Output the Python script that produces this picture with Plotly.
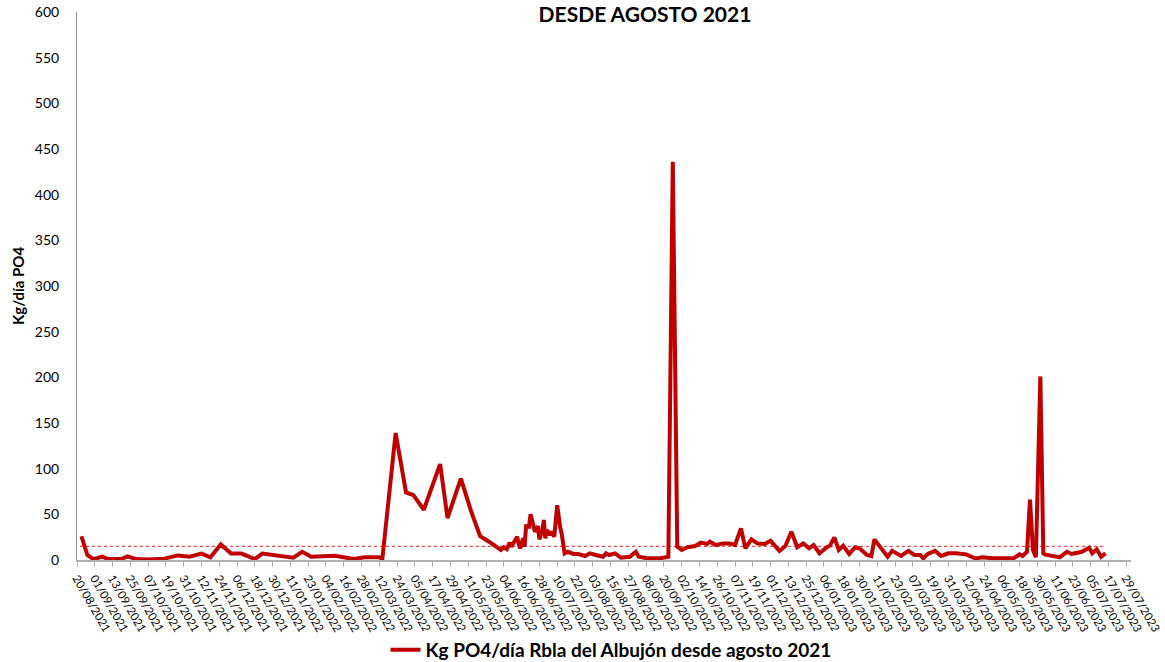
import pandas as pd
import plotly.graph_objects as go

fechas = [
    "2021-08-23", "2021-08-27", "2021-08-31", "2021-09-03", "2021-09-06", "2021-09-10",
    "2021-09-14", "2021-09-19", "2021-09-23", "2021-09-29", "2021-10-07", "2021-10-18",
    "2021-10-27", "2021-11-04", "2021-11-12", "2021-11-18", "2021-11-25", "2021-12-02",
    "2021-12-09", "2021-12-18", "2021-12-23", "2021-12-31", "2022-01-13", "2022-01-19",
    "2022-01-25", "2022-02-10", "2022-02-23", "2022-03-02", "2022-03-12", "2022-03-14",
    "2022-03-23", "2022-03-30", "2022-04-04", "2022-04-11", "2022-04-22", "2022-04-27",
    "2022-05-06", "2022-05-13", "2022-05-19", "2022-05-25", "2022-06-02", "2022-06-04",
    "2022-06-06", "2022-06-08", "2022-06-09", "2022-06-11", "2022-06-13", "2022-06-14",
    "2022-06-15", "2022-06-17", "2022-06-18", "2022-06-19", "2022-06-21", "2022-06-22",
    "2022-06-24", "2022-06-25", "2022-06-27", "2022-06-28", "2022-06-30", "2022-07-01",
    "2022-07-02", "2022-07-03", "2022-07-05", "2022-07-06", "2022-07-08", "2022-07-10",
    "2022-07-12", "2022-07-13", "2022-07-15", "2022-07-17", "2022-07-21", "2022-07-24",
    "2022-07-29", "2022-08-01", "2022-08-05", "2022-08-10", "2022-08-12", "2022-08-14",
    "2022-08-18", "2022-08-22", "2022-08-28", "2022-09-01", "2022-09-03", "2022-09-09",
    "2022-09-17", "2022-09-23", "2022-09-26", "2022-09-29", "2022-10-02", "2022-10-06",
    "2022-10-11", "2022-10-15", "2022-10-19", "2022-10-21", "2022-10-25", "2022-10-30",
    "2022-11-03", "2022-11-07", "2022-11-11", "2022-11-14", "2022-11-18", "2022-11-22",
    "2022-11-27", "2022-12-01", "2022-12-07", "2022-12-11", "2022-12-15", "2022-12-19",
    "2022-12-23", "2022-12-27", "2022-12-30", "2023-01-03", "2023-01-08", "2023-01-10",
    "2023-01-13", "2023-01-16", "2023-01-19", "2023-01-23", "2023-01-27", "2023-01-30",
    "2023-02-04", "2023-02-07", "2023-02-09", "2023-02-14", "2023-02-18", "2023-02-21",
    "2023-02-27", "2023-03-04", "2023-03-08", "2023-03-12", "2023-03-14", "2023-03-17",
    "2023-03-22", "2023-03-26", "2023-03-31", "2023-04-05", "2023-04-12", "2023-04-18",
    "2023-04-23", "2023-04-30", "2023-05-07", "2023-05-14", "2023-05-18", "2023-05-20",
    "2023-05-23", "2023-05-25", "2023-05-27", "2023-05-29", "2023-06-01", "2023-06-03",
    "2023-06-04", "2023-06-10", "2023-06-14", "2023-06-19", "2023-06-22", "2023-06-26",
    "2023-06-29", "2023-07-04", "2023-07-06", "2023-07-09", "2023-07-12", "2023-07-15",
]

kg_po4 = [
    26, 5.5, 1, 2, 3.6, 1,
    1, 1, 4, 1, 0.5, 1.5,
    5, 3.6, 7, 3, 17, 7,
    7, 1, 7, 5, 2.5, 9,
    3.6, 4.7, 1, 3, 3, 1,
    139, 74, 71, 55, 105, 46,
    89, 53, 26, 20, 11, 14,
    12, 19, 14.6, 20, 25.5, 17.5,
    12.8, 23.7, 14.6, 37, 36.5, 50,
    34.7, 31, 37, 22.6, 32.8, 43.8,
    23.7, 32.8, 27.4, 31, 25.5, 60,
    35.8, 29, 7.3, 9, 6.6, 6.6,
    4.4, 7.3, 5.5, 3.6, 7.3, 5.5,
    7.3, 2.6, 3.6, 9, 3.6, 1.8,
    1.8, 3.6, 436, 14.6, 11, 14,
    15.3, 19, 17.5, 20, 16.4, 18.2,
    18.2, 16.4, 34.7, 12.8, 22.6, 18.2,
    17.5, 21, 9.9, 15.5, 31, 14,
    18.2, 12.8, 16.4, 7.3, 14, 15.5,
    24.8, 11, 15.5, 6.6, 14, 12.8,
    5.5, 4.4, 22.6, 11, 3.6, 10,
    4.4, 9.9, 5.5, 5.5, 1.8, 6.6,
    10, 4.4, 7.3, 7.3, 6.2, 1.8,
    2.9, 1.8, 1.5, 1.8, 6.2, 4.4,
    9, 66, 11, 3, 201, 7.3,
    6.2, 4.4, 2.9, 9, 6.6, 8,
    9, 13.5, 7.3, 11.7, 3.6, 7.3,
]

umbral = 15
umbral_fechas = ["2021-08-22", "2023-07-15"]

fuente = "Lato, Carlito, 'Liberation Sans', sans-serif"

fig = go.Figure()

fig.add_trace(
    go.Scatter(
        x=umbral_fechas,
        y=[umbral, umbral],
        mode="lines",
        line=dict(color="#E02020", width=1, dash="3px,3px"),
        showlegend=False,
        hoverinfo="skip",
    )
)

fig.add_trace(
    go.Scatter(
        x=pd.to_datetime(fechas),
        y=kg_po4,
        mode="lines",
        name="Kg PO4/día Rbla del Albujón desde agosto 2021",
        line=dict(color="#C00000", width=4),
    )
)

fig.update_layout(
    width=1165,
    height=662,
    margin=dict(l=77, r=34, t=12, b=102),
    paper_bgcolor="white",
    plot_bgcolor="white",
    font=dict(family=fuente, color="#000000", size=13),
    title=dict(
        text="<b>DESDE AGOSTO 2021</b>",
        font=dict(size=21, family=fuente, color="#000000"),
        xref="container",
        yref="container",
        x=645 / 1165,
        xanchor="center",
        y=1 - 15 / 662,
        yanchor="middle",
    ),
    showlegend=True,
    legend=dict(
        orientation="h",
        xref="container",
        yref="container",
        x=611 / 1165,
        xanchor="center",
        y=1 - 650 / 662,
        yanchor="middle",
        font=dict(size=19, family=fuente, color="#000000", weight="bold"),
        itemwidth=30,
    ),
    annotations=[
        dict(
            text="<b>Kg/día PO4</b>",
            xref="paper",
            yref="paper",
            x=-(77 - 18) / 1054,
            y=0.5,
            xanchor="center",
            yanchor="middle",
            textangle=-90,
            showarrow=False,
            font=dict(size=15, family=fuente, color="#000000"),
        )
    ],
)

fig.update_xaxes(
    type="date",
    range=["2021-08-20", "2023-08-01 04:00"],
    tick0="2021-08-20",
    dtick=12 * 86400000,
    tickformat="%d/%m/%Y",
    tickangle=60,
    tickfont=dict(size=11.5, family=fuente, color="#000000"),
    ticklabeloverflow="allow",
    showgrid=False,
    zeroline=False,
    showline=True,
    linecolor="#B0B0B0",
    linewidth=2,
    ticks="outside",
    ticklen=5,
    tickcolor="#B0B0B0",
    automargin=False,
)

fig.update_yaxes(
    range=[0, 600],
    tick0=0,
    dtick=50,
    tickfont=dict(size=14, family=fuente, color="#000000"),
    showgrid=False,
    zeroline=False,
    showline=True,
    linecolor="#909090",
    linewidth=1,
    ticks="",
    ticklabelstandoff=14,
    automargin=False,
)

# sin margen del body para que la figura ocupe la ventana exacta
fig.write_html(
    "out.html",
    config={"displayModeBar": False},
    post_script="document.body.style.margin = '0';",
)
